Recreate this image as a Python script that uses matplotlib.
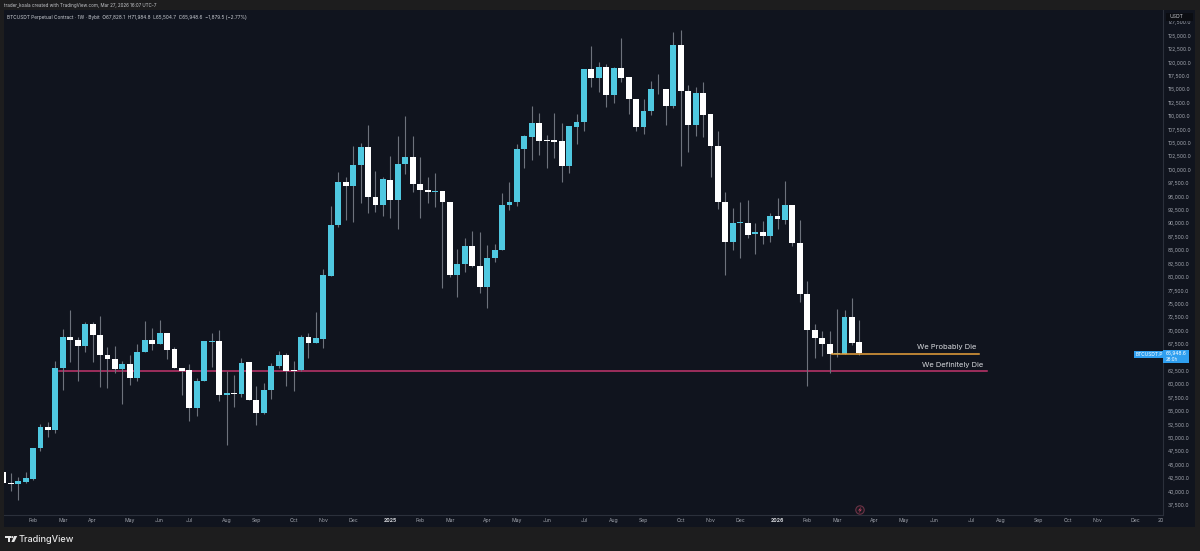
import matplotlib
matplotlib.use("Agg")
import matplotlib.pyplot as plt
from matplotlib.patches import Rectangle, Circle, Polygon
from matplotlib.transforms import Affine2D

plt.rcParams["font.family"] = ["Inter", "DejaVu Sans"]

opens = [43730, 41680, 41370, 41800, 42360, 48140, 52060, 51560, 63000, 68840,
         68280, 67100, 71200, 69150, 65420, 64670, 62870, 63800, 61260, 66040,
         68340, 67590, 69520, 66540, 63000, 62620, 55660, 60630, 67900, 68030,
         57960, 58460, 58210, 64110, 57090, 54610, 58960, 63430, 65420, 62690,
         62680, 68900, 67780, 68520, 80270, 89650, 97790, 97040, 100960, 104320,
         94930, 93440, 98160, 94310, 101080, 102330, 97420, 96300, 95860, 96110,
         94060, 80450, 82380, 85860, 82130, 78220, 83560, 84990, 93440, 94000,
         103880, 106180, 108790, 105560, 105490, 105370, 100710, 108040, 108970, 118790,
         117050, 119230, 113950, 119040, 117240, 113260, 107920, 110900, 115000, 115000,
         111890, 123270, 114750, 108290, 114260, 110340, 104440, 94060, 86610, 90150,
         90150, 87970, 88410, 87660, 91330, 90710, 93440, 86420, 76790, 70080,
         68650, 67470, 65670, 65670, 72620, 67828.1]
highs = [43730, 43550, 42800, 43730, 48140, 52620, 53050, 64360, 70270, 73870,
         68900, 71700, 71700, 72750, 67030, 67160, 64420, 65480, 67530, 71880,
         70580, 72010, 69640, 67030, 63000, 63740, 61130, 68030, 69520, 70140,
         62560, 61820, 64860, 64110, 59700, 60320, 63930, 66290, 65790, 64360,
         69210, 69520, 73500, 81510, 93250, 99650, 98720, 104440, 105060, 108350,
         99780, 98720, 102580, 106300, 110030, 106300, 102330, 98720, 99340, 96110,
         94060, 85180, 87230, 88660, 88470, 85980, 86170, 95620, 97790, 104810,
         106490, 111890, 110530, 106490, 110530, 108790, 108100, 110340, 118790, 123080,
         120160, 119720, 119230, 124510, 117240, 113260, 113260, 116550, 117860, 115000,
         125630, 126060, 115810, 115500, 116310, 110340, 107300, 95800, 92820, 94060,
         94370, 90020, 90520, 91890, 94680, 97980, 93440, 90650, 79270, 71260,
         69950, 69950, 73990, 73870, 76040, 71984.8]
lows = [41560, 40130, 38450, 41680, 42180, 47590, 50130, 50880, 58960, 64240,
        60630, 66100, 64240, 59580, 59270, 62190, 56350, 59890, 60700, 66040,
        66410, 67530, 64740, 63000, 58020, 53180, 54110, 60630, 63310, 56910,
        48700, 55850, 57710, 57090, 52430, 54420, 57220, 63000, 59700, 58770,
        62560, 64860, 67780, 66720, 80270, 89400, 90640, 90330, 93750, 92010,
        92200, 91390, 90960, 88900, 99220, 95930, 90960, 93750, 93130, 78030,
        79960, 76350, 81010, 81940, 76970, 74300, 82880, 84990, 92510, 93250,
        100270, 101830, 102760, 100270, 102260, 97790, 99340, 104810, 107230, 115500,
        114440, 111650, 112390, 116430, 110340, 107230, 106670, 110220, 114130, 108350,
        111460, 100770, 103260, 106300, 106050, 98600, 92690, 80390, 85050, 83500,
        87230, 84240, 86170, 86540, 88910, 89900, 85800, 75420, 59700, 64980,
        65290, 62190, 65170, 65670, 67340, 65504.7]
closes = [41560, 41430, 41930, 42490, 48140, 52060, 51560, 63000, 68840, 68220,
          67100, 71200, 69150, 65480, 64670, 62870, 63800, 61260, 66040, 68340,
          67590, 69520, 66480, 63000, 62560, 55660, 60630, 68030, 68030, 57960,
          58460, 58210, 64050, 57090, 54610, 58960, 63430, 65420, 62560, 62560,
          68900, 67780, 68650, 80330, 89650, 97790, 97040, 100960, 104320, 94930,
          93440, 98230, 94310, 101080, 102330, 97420, 96180, 95860, 96050, 94060,
          80450, 82380, 85860, 82130, 78220, 83560, 84990, 93440, 94000, 103880,
          106240, 108790, 105370, 105430, 105250, 100710, 108100, 108970, 118790, 117050,
          119230, 113950, 119040, 117180, 113260, 107920, 110900, 115000, 115130, 111890,
          123270, 114690, 108350, 114260, 110280, 104380, 93940, 86610, 90150, 90210,
          87910, 88410, 87660, 91330, 90770, 93440, 86420, 76790, 70080, 68590,
          67470, 65670, 65790, 72620, 67650, 65948.6]

month_pos = [4, 8, 12, 17, 21, 25, 30, 34, 39, 43, 47, 52, 56, 60, 65, 69, 73, 78,
             82, 86, 91, 95, 99, 104, 108, 112, 117, 121, 125, 130, 134, 139, 143,
             147, 152, 155.5]
month_labels = ["Feb", "Mar", "Apr", "May", "Jun", "Jul", "Aug", "Sep", "Oct", "Nov",
                "Dec", "2025", "Feb", "Mar", "Apr", "May", "Jun", "Jul", "Aug", "Sep",
                "Oct", "Nov", "Dec", "2026", "Feb", "Mar", "Apr", "May", "Jun", "Jul",
                "Aug", "Sep", "Oct", "Nov", "Dec", "20"]
# 65,000 sits behind the last price label
price_ticks = [p for p in range(37500, 130000, 2500) if p != 65000]

BG = "#10141e"
OUTER = "#1d1d1e"
TEAL = "#4fc8e0"
AXIS_TEXT = "#a0a4ad"

fig = plt.figure(figsize=(12, 5.51), dpi=100, facecolor=OUTER)
# pixel coords of the picture, y going down
px = Affine2D().scale(1, -1).translate(0, 551)

fig.add_artist(Rectangle((4, 10), 1191, 517, transform=px, fc=BG, ec="none", zorder=-1))

ax = fig.add_axes([4 / 1200, 36 / 551, 1159 / 1200, 505 / 551], facecolor=BG)
ax.set_xlim(0.1, 155.78)
ax.set_ylim(35660, 129790)

xs = list(range(len(opens)))
colors = [TEAL if c >= o else "white" for o, c in zip(opens, closes)]
body_low = [min(o, c) for o, c in zip(opens, closes)]
body_h = [abs(c - o) for o, c in zip(opens, closes)]

ax.vlines(xs, lows, highs, color="#6d727c", lw=0.8, zorder=2)
ax.bar(xs, body_h, bottom=body_low, width=0.8, color=colors, lw=0, zorder=3)

# the two drawn levels
ax.plot([111.3, 131.06], [65670, 65670], color="#e9a13b", lw=1.1, zorder=4)
ax.plot([7.5, 132.1], [62560, 62560], color="#c2356d", lw=1.1, zorder=1.5)
ax.text(130.7, 66350, "We Probably Die", color="#d8dade", fontsize=5.4, ha="right", va="bottom")
ax.text(131.7, 63100, "We Definitely Die", color="#d8dade", fontsize=5.4, ha="right", va="bottom")

ax.yaxis.tick_right()
ax.set_yticks(price_ticks)
ax.set_yticklabels([f"{p:,.1f}" for p in price_ticks], fontsize=3.7, color=AXIS_TEXT)
ax.set_xticks(month_pos)
ax.set_xticklabels(month_labels, fontsize=3.7, color=AXIS_TEXT)
for lab in ax.get_xticklabels():
    if lab.get_text() in ("2025", "2026"):
        lab.set_color("#d5d7dc")
        lab.set_fontweight("bold")
ax.tick_params(axis="both", length=0, pad=3.4)
ax.tick_params(axis="x", pad=2.5)
for side in ("top", "left"):
    ax.spines[side].set_visible(False)
for side in ("right", "bottom"):
    ax.spines[side].set_color("#2b303b")
    ax.spines[side].set_linewidth(0.8)

# top text
fig.text(4, 5.5, "trader_koala created with TradingView.com, Mar 27, 2026 16:07 UTC-7",
         transform=px, color="#c4c6ca", fontsize=3.25, va="center")
fig.text(7, 17, "BTCUSDT Perpetual Contract · 1W · Bybit  O67,828.1  H71,984.8  L65,504.7  C65,948.6  −1,879.5 (−2.77%)",
         transform=px, color="#c9ccd2", fontsize=3.45, va="center")

# USDT box on the scale
fig.add_artist(Rectangle((1166, 13), 27, 8, transform=px, fc="#0b0d12", ec="none", zorder=5))
fig.text(1169, 17, "USDT", transform=px, color="#c9ccd2", fontsize=3.6, va="center", zorder=6)

# last price label
fig.add_artist(Rectangle((1134, 350.5), 29, 7, transform=px, fc="#2f9ff0", ec="none", zorder=5))
fig.add_artist(Rectangle((1163, 350), 26, 13, transform=px, fc="#2f9ff0", ec="none", zorder=5))
fig.text(1136, 354, "BTCUSDT.P", transform=px, color="white", fontsize=3.5, va="center", zorder=6)
fig.text(1166, 353, "65,948.6", transform=px, color="white", fontsize=3.5, va="center", zorder=6)
fig.text(1166, 359.5, "28:0h", transform=px, color="white", fontsize=3.2, va="center", zorder=6)

# flash marker on the time line
fig.add_artist(Circle((860, 510), 4.2, transform=px, fc="#1a1720", ec="#6b3346", lw=0.8, zorder=5))
fig.add_artist(Polygon([(861.5, 506.5), (858, 510.5), (860, 510.5), (858.5, 513.5), (862, 509.5), (860, 509.5)],
                       transform=px, fc="#b8405f", ec="none", zorder=6))

# footer logo
logo = "#e6e6e6"
fig.add_artist(Rectangle((5, 536), 6, 2.2, transform=px, fc=logo, ec="none"))
fig.add_artist(Rectangle((7.6, 536), 2.4, 6, transform=px, fc=logo, ec="none"))
fig.add_artist(Circle((12.3, 537.1), 1.1, transform=px, fc=logo, ec="none"))
fig.add_artist(Polygon([(14.2, 536), (17.2, 536), (14.2, 542), (11.4, 542)], transform=px, fc=logo, ec="none"))
fig.text(19, 539, "TradingView", transform=px, color=logo, fontsize=6.6, fontweight="medium", va="center")

fig.savefig("out.png", dpi=100, facecolor=OUTER)
